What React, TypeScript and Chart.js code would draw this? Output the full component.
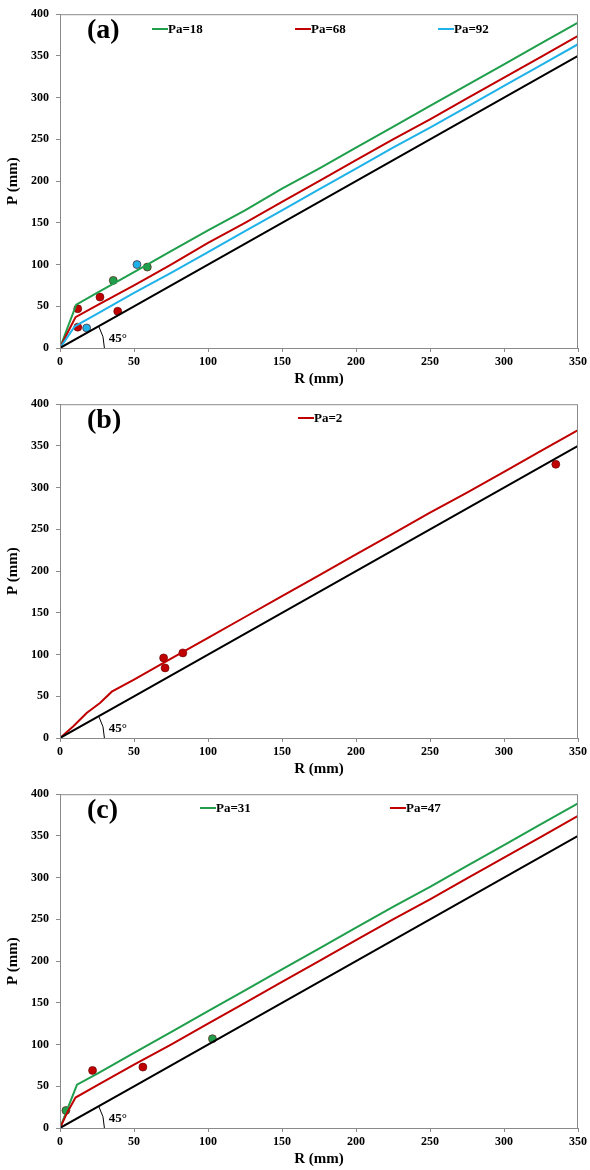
import React, { useEffect, useRef } from "react";
import { Chart, registerables } from "chart.js";
Chart.register(...registerables);

const FONT = "'Liberation Serif', 'Times New Roman', serif";
const GREEN = "#1f9f4c";
const RED = "#c00000";
const BLUE = "#1eb2e8";
const BLACK = "#000000";
const FRAME = "#8a8a8a";

// 1:1 line (45°)
const BISECTOR_R = [0, 50, 100, 150, 200, 250, 300, 350];
const BISECTOR_P = [0, 50, 100, 150, 200, 250, 300, 350];

// Panel (a)
const A_PA18_R = [0, 5, 11, 25, 50, 75, 100, 125, 150, 175, 200, 225, 250, 275, 300, 325, 350];
const A_PA18_P = [0, 24, 52, 66, 91, 116, 141, 165, 191, 215, 240, 265, 290, 315, 340, 365, 390];
const A_PA68_R = [0, 5, 10.5, 25, 50, 60, 75, 100, 125, 150, 175, 200, 225, 250, 275, 300, 325, 350];
const A_PA68_P = [0, 18, 37, 51, 75, 85, 100, 126, 150, 175, 200, 225, 250, 274, 299, 324, 349, 374];
const A_PA92_R = [0, 5, 10, 25, 50, 75, 100, 125, 150, 175, 200, 225, 250, 275, 300, 325, 350];
const A_PA92_P = [0, 13, 26, 41, 66, 90, 115, 140, 165, 190, 215, 240, 264, 289, 314, 339, 364];
const A_OBS18_R = [36, 59];
const A_OBS18_P = [81, 97];
const A_OBS68_R = [12, 12, 27, 39];
const A_OBS68_P = [47, 25, 61, 44];
const A_OBS92_R = [18, 52];
const A_OBS92_P = [24, 100];

// Panel (b)
const B_PA2_R = [0, 9, 18, 27, 35, 50, 75, 100, 125, 150, 175, 200, 225, 250, 275, 300, 325, 350];
const B_PA2_P = [0, 14, 30, 42, 55.5, 70, 95, 120, 145, 170, 195, 220, 245, 270, 294, 319, 344, 369];
const B_OBS2_R = [70, 71, 83, 335];
const B_OBS2_P = [96, 84, 102, 328];

// Panel (c)
const C_PA31_R = [0, 4, 11.5, 25, 50, 75, 100, 125, 150, 175, 200, 225, 250, 275, 300, 325, 350];
const C_PA31_P = [0, 18, 52, 65, 90, 115, 140, 165, 190, 215, 240, 265, 289, 314, 339, 364, 389];
const C_PA47_R = [0, 5, 10.5, 25, 50, 75, 100, 125, 150, 175, 200, 225, 250, 275, 300, 325, 350];
const C_PA47_P = [0, 19, 36.5, 51, 76, 100, 125, 150, 175, 200, 225, 250, 274, 299, 324, 349, 374];
const C_OBS31_R = [4, 103];
const C_OBS31_P = [21, 107];
const C_OBS47_R = [22, 56];
const C_OBS47_P = [69, 73];

const X_TICKS = [0, 50, 100, 150, 200, 250, 300, 350];
const Y_TICKS = [0, 50, 100, 150, 200, 250, 300, 350, 400];

const pts = (r: number[], p: number[]) => r.map((x, i) => ({ x, y: p[i] }));

const lineDs = (label: string, r: number[], p: number[], color: string) => ({
  label,
  data: pts(r, p),
  showLine: true,
  borderColor: color,
  backgroundColor: color,
  borderWidth: 2,
  pointRadius: 0,
  tension: 0,
});
const obsDs = (r: number[], p: number[], color: string) => ({
  label: "",
  data: pts(r, p),
  showLine: false,
  pointRadius: 4,
  backgroundColor: color,
  borderColor: "rgba(90,0,0,0.6)",
  borderWidth: 1,
});

type PanelDef = {
  tag: string;
  legend: { text: string; color: string }[];
  legendX: number[];
  legendY: number;
  datasets: any[];
};

const PANELS: PanelDef[] = [
  {
    tag: "(a)",
    legend: [
      { text: "Pa=18", color: GREEN },
      { text: "Pa=68", color: RED },
      { text: "Pa=92", color: BLUE },
    ],
    legendX: [152, 295, 438],
    legendY: 29,
    datasets: [
      lineDs("black", BISECTOR_R, BISECTOR_P, BLACK),
      lineDs("Pa=92", A_PA92_R, A_PA92_P, BLUE),
      lineDs("Pa=68", A_PA68_R, A_PA68_P, RED),
      lineDs("Pa=18", A_PA18_R, A_PA18_P, GREEN),
      obsDs(A_OBS18_R, A_OBS18_P, GREEN),
      obsDs(A_OBS68_R, A_OBS68_P, RED),
      obsDs(A_OBS92_R, A_OBS92_P, BLUE),
    ],
  },
  {
    tag: "(b)",
    legend: [{ text: "Pa=2", color: RED }],
    legendX: [298],
    legendY: 28,
    datasets: [
      lineDs("black", BISECTOR_R, BISECTOR_P, BLACK),
      lineDs("Pa=2", B_PA2_R, B_PA2_P, RED),
      obsDs(B_OBS2_R, B_OBS2_P, RED),
    ],
  },
  {
    tag: "(c)",
    legend: [
      { text: "Pa=31", color: GREEN },
      { text: "Pa=47", color: RED },
    ],
    legendX: [200, 390],
    legendY: 28,
    datasets: [
      lineDs("black", BISECTOR_R, BISECTOR_P, BLACK),
      lineDs("Pa=47", C_PA47_R, C_PA47_P, RED),
      lineDs("Pa=31", C_PA31_R, C_PA31_P, GREEN),
      obsDs(C_OBS31_R, C_OBS31_P, GREEN),
      obsDs(C_OBS47_R, C_OBS47_P, RED),
    ],
  },
];

const decorPlugin = (def: PanelDef) => ({
  id: "panelDecor",
  afterDraw(chart: any) {
    const ctx = chart.ctx;
    const a = chart.chartArea;
    const xs = chart.scales.x;
    const ys = chart.scales.y;
    ctx.save();
    // frame
    ctx.strokeStyle = FRAME;
    ctx.lineWidth = 1;
    ctx.strokeRect(a.left + 0.5, a.top + 0.5, a.right - a.left - 1, a.bottom - a.top);
    // panel tag
    ctx.fillStyle = "#000";
    ctx.font = `bold 28px ${FONT}`;
    ctx.textBaseline = "middle";
    ctx.textAlign = "left";
    ctx.fillText(def.tag, 87, 31);
    // legend
    ctx.font = `bold 13px ${FONT}`;
    def.legend.forEach((item, i) => {
      const x0 = def.legendX[i];
      ctx.strokeStyle = item.color;
      ctx.lineWidth = 2;
      ctx.beginPath();
      ctx.moveTo(x0, def.legendY);
      ctx.lineTo(x0 + 16, def.legendY);
      ctx.stroke();
      ctx.fillStyle = "#000";
      ctx.fillText(item.text, x0 + 16, def.legendY + 1);
    });
    // 45° arc
    const cx = xs.getPixelForValue(0);
    const cy = ys.getPixelForValue(0);
    const r = xs.getPixelForValue(30) - cx;
    const ex = xs.getPixelForValue(350) - cx;
    const ey = cy - ys.getPixelForValue(350);
    const ang = Math.atan2(ey, ex);
    ctx.strokeStyle = "#000";
    ctx.lineWidth = 1;
    ctx.beginPath();
    ctx.arc(cx, cy, r, -ang, 0);
    ctx.stroke();
    ctx.fillStyle = "#000";
    ctx.font = `bold 13px ${FONT}`;
    ctx.fillText("45°", xs.getPixelForValue(33), ys.getPixelForValue(11));
    ctx.restore();
  },
});

function Panel({ def }: { def: PanelDef }) {
  const ref = useRef<HTMLCanvasElement | null>(null);
  useEffect(() => {
    if (!ref.current) return;
    const tickFont = { family: FONT, size: 12, weight: "bold" as const };
    const titleFont = { family: FONT, size: 15, weight: "bold" as const };
    const chart = new Chart(ref.current, {
      type: "scatter",
      data: { datasets: def.datasets },
      options: {
        animation: false,
        responsive: false,
        devicePixelRatio: 1,
        layout: { padding: { top: 7, right: 12, left: 0, bottom: 0 } },
        plugins: { legend: { display: false }, tooltip: { enabled: false } },
        scales: {
          x: {
            type: "linear",
            min: 0,
            max: 350,
            afterBuildTicks: (s: any) => {
              s.ticks = X_TICKS.map((v) => ({ value: v }));
            },
            afterFit: (s: any) => {
              s.height = 42;
            },
            ticks: { font: tickFont, color: "#000", padding: 3, maxRotation: 0 },
            grid: { display: true, drawOnChartArea: false, tickLength: 4, color: FRAME },
            border: { color: FRAME, width: 1 },
            title: { display: true, text: "R (mm)", font: titleFont, color: "#000", padding: { top: 0, bottom: 2 } },
          },
          y: {
            type: "linear",
            min: 0,
            max: 400,
            afterBuildTicks: (s: any) => {
              s.ticks = Y_TICKS.map((v) => ({ value: v }));
            },
            afterFit: (s: any) => {
              s.width = 60;
            },
            ticks: { font: tickFont, color: "#000", padding: 7 },
            grid: { display: true, drawOnChartArea: false, tickLength: 4, color: FRAME },
            border: { color: FRAME, width: 1 },
            title: { display: true, text: "P (mm)", font: titleFont, color: "#000", padding: { top: 4, bottom: 0 } },
          },
        },
      },
      plugins: [decorPlugin(def)],
    } as any);
    return () => chart.destroy();
  }, [def]);
  return (
    <div style={{ width: 590, height: 390 }}>
      <canvas ref={ref} width={590} height={390} style={{ width: 590, height: 390, display: "block" }} />
    </div>
  );
}

export default function App() {
  return (
    <div style={{ position: "absolute", left: 0, top: 0, width: 590, height: 1170, background: "#fff" }}>
      {PANELS.map((p) => (
        <Panel key={p.tag} def={p} />
      ))}
    </div>
  );
}
